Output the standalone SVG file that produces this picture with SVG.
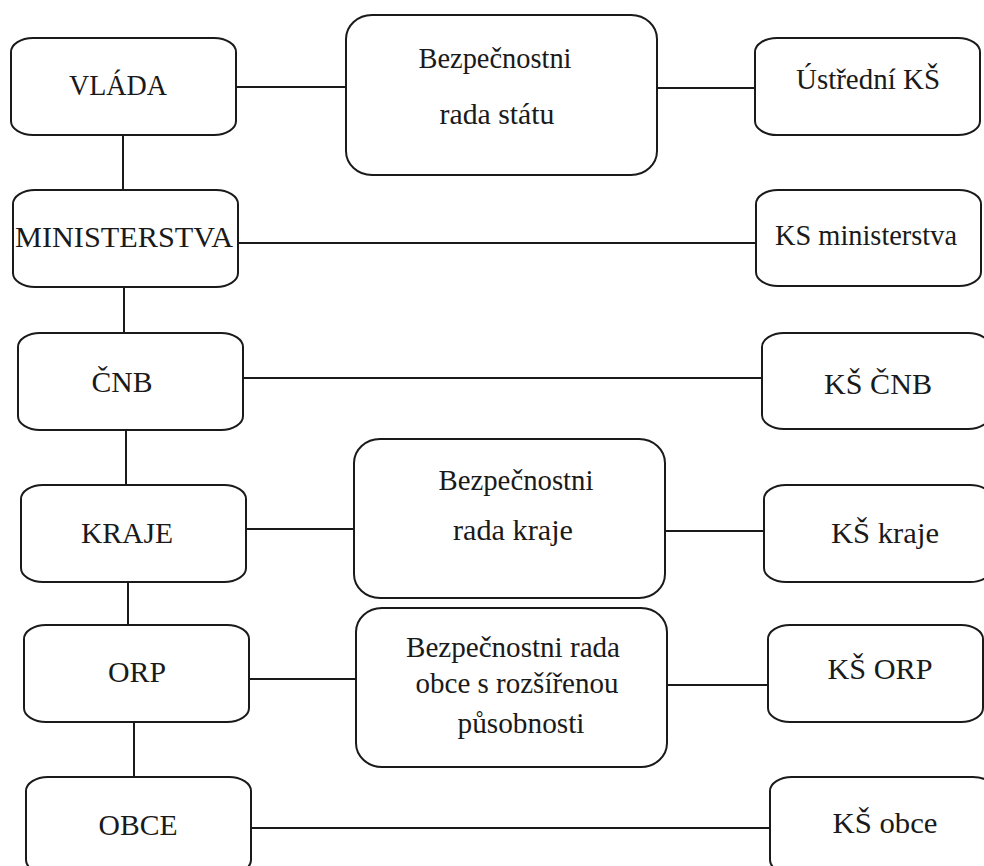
<svg xmlns="http://www.w3.org/2000/svg" width="984" height="866" viewBox="0 0 984 866">
<style>
rect{fill:#fff;stroke:#1a1a1a;stroke-width:2}
.s{rx:22px;ry:14px}
.b{rx:26px;ry:24px}
text{font-family:"Liberation Serif","Times New Roman",serif;font-size:30px;fill:#1a1a1a;text-anchor:middle}
#connectors line{stroke:#1a1a1a;stroke-width:2}
</style>
<rect x="0" y="0" width="984" height="866" style="fill:#fff;stroke:none"/>
<g id="connectors">
<line x1="236" y1="87" x2="346" y2="87"/>
<line x1="657" y1="88" x2="755" y2="88"/>
<line x1="123" y1="135" x2="123" y2="190"/>
<line x1="238" y1="243" x2="756" y2="243"/>
<line x1="124" y1="287" x2="124" y2="333"/>
<line x1="243" y1="378" x2="762" y2="378"/>
<line x1="126" y1="430" x2="126" y2="485"/>
<line x1="246" y1="529" x2="354" y2="529"/>
<line x1="665" y1="531" x2="764" y2="531"/>
<line x1="128" y1="582" x2="128" y2="625"/>
<line x1="249" y1="679" x2="356" y2="679"/>
<line x1="667" y1="685" x2="768" y2="685"/>
<line x1="134" y1="722" x2="134" y2="777"/>
<line x1="251" y1="828" x2="770" y2="828"/>
</g>
<g id="vlada"><rect class="s" x="11" y="38" width="225" height="97"/><text x="118" y="95" textLength="98" lengthAdjust="spacingAndGlyphs">VLÁDA</text></g>
<g id="ministerstva"><rect class="s" x="13" y="190" width="225" height="97"/><text x="124" y="247" textLength="218" lengthAdjust="spacingAndGlyphs">MINISTERSTVA</text></g>
<g id="cnb"><rect class="s" x="18" y="333" width="225" height="97"/><text x="122" y="392" textLength="61" lengthAdjust="spacingAndGlyphs">ČNB</text></g>
<g id="kraje"><rect class="s" x="21" y="485" width="225" height="97"/><text x="127" y="543" textLength="92" lengthAdjust="spacingAndGlyphs">KRAJE</text></g>
<g id="orp"><rect class="s" x="24" y="625" width="225" height="97"/><text x="137" y="682" textLength="58" lengthAdjust="spacingAndGlyphs">ORP</text></g>
<g id="obce"><rect class="s" x="26" y="777" width="225" height="97"/><text x="138" y="835" textLength="79" lengthAdjust="spacingAndGlyphs">OBCE</text></g>
<g id="brs"><rect class="b" x="346" y="15" width="311" height="160"/><text x="495" y="68" textLength="153" lengthAdjust="spacingAndGlyphs">Bezpečnostni</text><text x="497" y="124" textLength="115" lengthAdjust="spacingAndGlyphs">rada státu</text></g>
<g id="brk"><rect class="b" x="354" y="439" width="311" height="159"/><text x="516" y="490" textLength="155" lengthAdjust="spacingAndGlyphs">Bezpečnostni</text><text x="513" y="540" textLength="120" lengthAdjust="spacingAndGlyphs">rada kraje</text></g>
<g id="bro"><rect class="b" x="356" y="608" width="311" height="159"/><text x="513" y="657" textLength="214" lengthAdjust="spacingAndGlyphs">Bezpečnostni rada</text><text x="517" y="693" textLength="203" lengthAdjust="spacingAndGlyphs">obce s rozšířenou</text><text x="521" y="733" textLength="127" lengthAdjust="spacingAndGlyphs">působnosti</text></g>
<g id="ustredni-ks"><rect class="s" x="755" y="38" width="225" height="97"/><text x="868" y="89" textLength="144" lengthAdjust="spacingAndGlyphs">Ústřední KŠ</text></g>
<g id="ks-ministerstva"><rect class="s" x="756" y="190" width="225" height="96"/><text x="866" y="245" textLength="182" lengthAdjust="spacingAndGlyphs">KS ministerstva</text></g>
<g id="ks-cnb"><rect class="s" x="762" y="333" width="228" height="96"/><text x="878" y="394" textLength="108" lengthAdjust="spacingAndGlyphs">KŠ ČNB</text></g>
<g id="ks-kraje"><rect class="s" x="764" y="485" width="228" height="97"/><text x="885" y="543" textLength="108" lengthAdjust="spacingAndGlyphs">KŠ kraje</text></g>
<g id="ks-orp"><rect class="s" x="768" y="625" width="215" height="97"/><text x="880" y="679" textLength="105" lengthAdjust="spacingAndGlyphs">KŠ ORP</text></g>
<g id="ks-obce"><rect class="s" x="770" y="777" width="225" height="97"/><text x="885" y="833" textLength="105" lengthAdjust="spacingAndGlyphs">KŠ obce</text></g>
</svg>
